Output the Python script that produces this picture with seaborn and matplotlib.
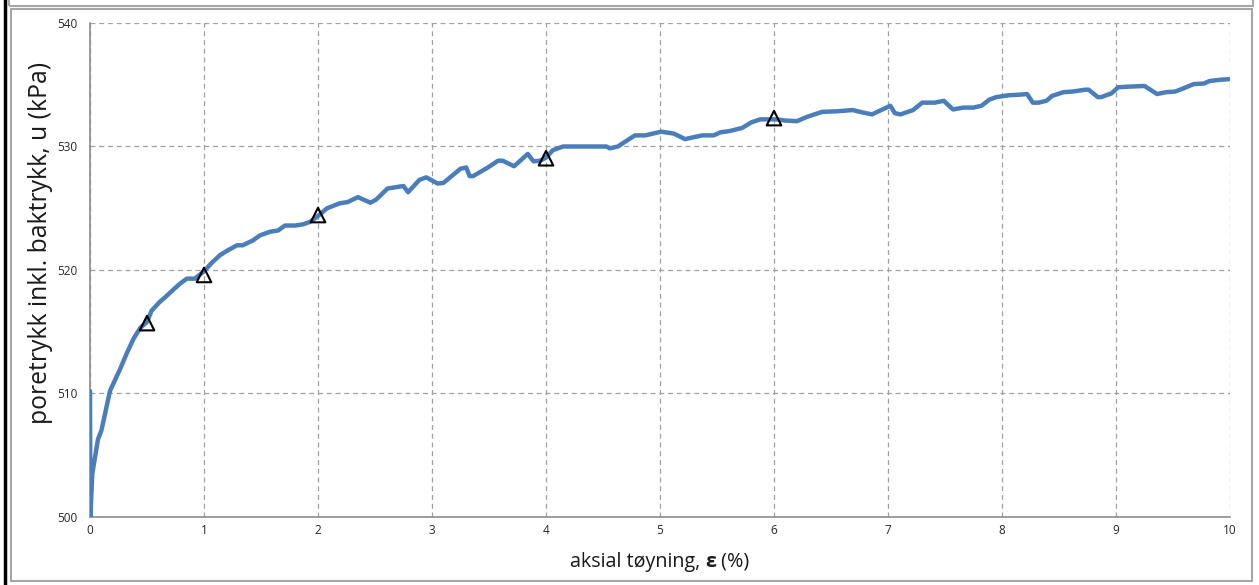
import pandas as pd
import matplotlib.pyplot as plt
import seaborn as sns
from matplotlib.patches import Rectangle
from matplotlib.lines import Line2D

# data (strain in %, pore pressure in kPa)
strain = [0, 0.003, 0.02, 0.07, 0.1, 0.175, 0.26, 0.32, 0.38, 0.44, 0.5, 0.54, 0.61, 0.66,
          0.73, 0.79, 0.85, 0.92, 1.0, 1.07, 1.14, 1.21, 1.29, 1.34, 1.43, 1.49, 1.58, 1.65,
          1.71, 1.8, 1.87, 1.93, 1.99, 2.08, 2.19, 2.26, 2.35, 2.46, 2.51, 2.61, 2.75, 2.79,
          2.89, 2.95, 3.05, 3.1, 3.25, 3.3, 3.33, 3.36, 3.49, 3.58, 3.62, 3.72, 3.84, 3.89,
          3.95, 4.0, 4.06, 4.15, 4.3, 4.53, 4.56, 4.63, 4.78, 4.87, 5.01, 5.12, 5.22, 5.37,
          5.47, 5.53, 5.61, 5.72, 5.8, 5.88, 5.96, 6.02, 6.1, 6.2, 6.29, 6.42, 6.55, 6.69,
          6.78, 6.86, 7.02, 7.06, 7.11, 7.22, 7.3, 7.41, 7.49, 7.57, 7.66, 7.75, 7.82, 7.89,
          7.95, 8.06, 8.16, 8.22, 8.27, 8.32, 8.39, 8.44, 8.54, 8.62, 8.73, 8.76, 8.84, 8.87,
          8.96, 9.02, 9.12, 9.25, 9.36, 9.44, 9.52, 9.59, 9.68, 9.77, 9.82, 9.91, 9.99]
pore_pressure = [510.2, 500.0, 503.5, 506.3, 507.0, 510.2, 511.9, 513.2, 514.4, 515.3, 515.8,
                 516.7, 517.4, 517.8, 518.4, 518.9, 519.3, 519.3, 519.9, 520.6, 521.2, 521.6,
                 522.0, 522.0, 522.4, 522.8, 523.1, 523.2, 523.6, 523.6, 523.7, 523.9, 524.3,
                 525.0, 525.4, 525.5, 525.9, 525.45, 525.7, 526.6, 526.8, 526.3, 527.3, 527.5,
                 527.0, 527.05, 528.2, 528.3, 527.6, 527.6, 528.3, 528.85, 528.85, 528.4, 529.4,
                 528.8, 528.85, 529.1, 529.7, 530.0, 530.0, 530.0, 529.85, 530.0, 530.9, 530.9,
                 531.2, 531.05, 530.6, 530.9, 530.9, 531.15, 531.25, 531.5, 531.95, 532.2,
                 532.2, 532.2, 532.1, 532.05, 532.4, 532.8, 532.85, 532.95, 532.75, 532.6,
                 533.3, 532.7, 532.6, 532.95, 533.55, 533.55, 533.7, 533.0, 533.15, 533.15,
                 533.3, 533.8, 534.0, 534.15, 534.2, 534.25, 533.55, 533.55, 533.7, 534.1,
                 534.4, 534.45, 534.6, 534.6, 534.0, 534.0, 534.3, 534.8, 534.85, 534.9,
                 534.25, 534.4, 534.45, 534.7, 535.05, 535.1, 535.3, 535.4, 535.45]

# marked points (triangles)
mark_strain = [0.5, 1.0, 2.0, 4.0, 6.0]
mark_pressure = [515.7, 519.6, 524.45, 529.05, 532.3]

x_ticks = list(range(0, 11))
y_ticks = [500, 510, 520, 530, 540]

sns.set_theme(style="whitegrid")
plt.rcParams["font.family"] = ["Open Sans", "DejaVu Sans"]

W, H = 1259, 585
fig = plt.figure(figsize=(W / 100, H / 100), dpi=100)
fig.patch.set_facecolor("white")


def px(x0, y0, x1, y1):
    # pixel box -> figure fraction rect
    return [x0 / W, 1 - y1 / H, (x1 - x0) / W, (y1 - y0) / H]


ax = fig.add_axes(px(90, 23, 1230, 517))

df = pd.DataFrame({"strain": strain, "u": pore_pressure})
marks = pd.DataFrame({"strain": mark_strain, "u": mark_pressure})

sns.lineplot(data=df, x="strain", y="u", sort=False, estimator=None, ax=ax,
             color="#4a7ebb", linewidth=3.2, solid_capstyle="round",
             solid_joinstyle="round", zorder=3)
sns.scatterplot(data=marks, x="strain", y="u", ax=ax, marker="^", s=110,
                facecolors="none", edgecolor="black", linewidth=1.5, zorder=4)

ax.set_xlim(0, 10)
ax.set_ylim(500, 540)
ax.set_xticks(x_ticks)
ax.set_yticks(y_ticks)
ax.set_facecolor("white")
ax.grid(True, color="#a0a0a0", linestyle=(0, (4, 3)), linewidth=0.9)
for side in ["top", "right"]:
    ax.spines[side].set_visible(False)
for side in ["left", "bottom"]:
    ax.spines[side].set_color("#8c8c8c")
    ax.spines[side].set_linewidth(1.2)
ax.tick_params(axis="both", length=0, labelsize=8.5, colors="#262626")
ax.tick_params(axis="y", pad=9)
ax.tick_params(axis="x", pad=5)

ax.set_ylabel("")
ax.set_xlabel("")
fig.text(41 / W, 1 - 243 / H, "poretrykk inkl. baktrykk, u (kPa)", fontsize=17.8,
         color="#1a1a1a", rotation=90, ha="center", va="center")

# x label with bold epsilon, built from pieces
t1 = fig.text(570 / W, 1 - 567 / H, "aksial tøyning, ", fontsize=14.2, color="#1a1a1a",
              ha="left", va="baseline")
t2 = ax.annotate("ε", xy=(1, 0), xycoords=t1, ha="left", va="bottom",
                 fontsize=14.2, fontweight="bold", color="#1a1a1a",
                 annotation_clip=False)
t3 = ax.annotate(" (%)", xy=(1, 0), xycoords=t2, ha="left", va="bottom",
                 fontsize=14.2, color="#1a1a1a", annotation_clip=False)

# excel-like frame around the chart
gray = "#a6a6a6"
fig.add_artist(Rectangle((9 / W, 1 - 6 / H), 1244 / W, 10 / H, transform=fig.transFigure,
                         fill=False, edgecolor=gray, linewidth=1.5))
fig.add_artist(Rectangle((11 / W, 1 - 581 / H), 1241 / W, 572 / H, transform=fig.transFigure,
                         fill=False, edgecolor=gray, linewidth=1.5))
fig.add_artist(Line2D([5 / W, 5 / W], [0, 1], transform=fig.transFigure,
                      color="black", linewidth=2.5))

fig.savefig("out.png", dpi=100)
